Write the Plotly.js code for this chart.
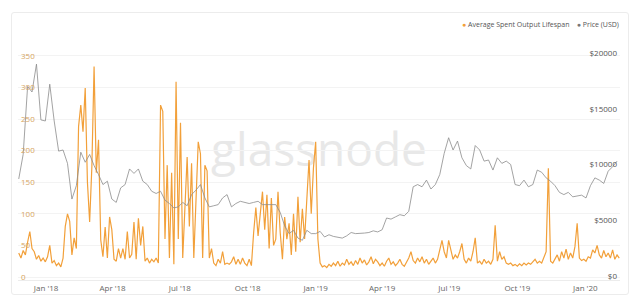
<!DOCTYPE html>
<html>
<head>
<meta charset="utf-8">
<script src="https://cdn.plot.ly/plotly-3.0.1.min.js"></script>
<style>
  html, body { margin: 0; padding: 0; background: #ffffff; }
  #card { position: absolute; left: 11px; top: 12px; width: 616px; height: 281px;
          border: 1px solid #ececec; border-radius: 3px; background: #fff; z-index: 0; }
  #chart { position: absolute; left: 0; top: 0; width: 640px; height: 300px; z-index: 1; }
</style>
</head>
<body>
<div id="card"></div>
<div id="chart"></div>
<script>
// Average Spent Output Lifespan, sampled every 3 days from 2017-11-25
const asolStart = '2017-11-25';
const asolStepDays = 3;
const asolValues = [
  38,30,42,35,55,72,45,40,28,34,25,30,24,32,50,22,26,18,22,16,
  30,80,100,88,35,62,45,238,272,230,299,150,87,175,333,165,217,59,32,79,
  30,95,75,28,25,45,30,45,28,72,30,36,87,28,93,50,80,25,30,22,
  28,24,30,22,272,262,60,177,30,165,20,309,60,244,30,117,190,80,180,30,
  112,214,195,30,177,168,30,45,22,18,28,22,40,20,22,20,24,32,20,28,
  20,30,22,18,28,18,70,110,65,95,135,75,130,45,125,50,60,135,70,28,
  95,60,85,35,100,40,127,55,108,60,120,185,100,173,214,60,22,16,18,15,
  20,17,22,18,25,17,22,19,28,20,24,18,26,20,30,22,27,19,24,32,
  21,28,24,18,22,17,25,30,20,24,18,22,28,20,17,24,30,40,26,22,
  30,24,32,22,28,20,26,30,22,28,43,58,40,30,58,40,28,35,30,40,
  53,28,22,30,25,40,62,22,25,20,28,22,25,20,28,82,25,40,28,32,
  22,20,22,18,20,17,21,18,22,19,22,20,24,28,22,25,22,30,40,172,
  25,22,28,35,25,40,30,44,28,38,30,48,85,30,26,28,25,32,30,43,
  38,50,35,30,42,32,38,30,43,28,35,30
];

// Price (USD), sampled every 6 days from 2017-11-25
const priceStart = '2017-11-25';
const priceStepDays = 6;
const priceValues = [
  8700,10900,17000,16500,19000,14000,13900,17200,13900,11200,
  11300,10100,6900,8100,11100,10200,10900,9900,9100,8200,
  8500,6900,6600,7900,8200,9600,9200,9600,8500,8200,
  7600,7400,7600,6800,6500,6100,6200,6600,6300,7300,
  7700,8200,7000,6200,6300,6400,7000,7300,6200,6500,
  6700,6600,6500,6600,6700,6400,6400,6350,6400,5700,
  4500,3800,4100,3400,3200,4100,3800,3800,4000,3500,
  3700,3550,3450,3400,3600,3900,3800,3800,3850,3900,
  4050,3950,4150,5200,5100,5300,5500,5400,5800,8000,
  8200,8000,8600,7800,8200,9100,11000,12400,11300,12100,
  10600,9900,9600,11700,11300,10300,10400,9500,10600,10100,
  10300,10000,8200,8100,8600,8000,8200,9500,9300,8800,
  8500,8100,7500,7300,7500,7100,7150,7250,7000,8100,
  8800,8600,8300,9400,9800,10300
];

const leftTicks = [0,50,100,150,200,250,300,350];
const rightTicks = [0,5000,10000,15000,20000];
const rightTickText = ['$0','$5000','$10000','$15000','$20000'];

function buildDates(start, step, n) {
  const out = [];
  const t0 = new Date(start + 'T00:00:00Z').getTime();
  for (let i = 0; i < n; i++) {
    const d = new Date(t0 + i * step * 86400000);
    out.push(d.toISOString().slice(0, 10));
  }
  return out;
}

const asolDates = buildDates(asolStart, asolStepDays, asolValues.length);
const priceDates = buildDates(priceStart, priceStepDays, priceValues.length);

const ORANGE = '#f2a03a';
const GREY = '#8c8c8c';
const FONT = 'Open Sans, Noto Sans, sans-serif';

const traces = [
  {
    x: priceDates, y: priceValues, yaxis: 'y2', type: 'scatter', mode: 'lines',
    line: { color: GREY, width: 0.8 }, showlegend: false, hoverinfo: 'skip'
  },
  {
    x: asolDates, y: asolValues, yaxis: 'y', type: 'scatter', mode: 'lines',
    line: { color: ORANGE, width: 1.2 }, showlegend: false, hoverinfo: 'skip'
  }
];

const layout = {
  width: 640, height: 300,
  margin: { l: 18, r: 20, t: 28, b: 20 },
  paper_bgcolor: 'rgba(0,0,0,0)',
  plot_bgcolor: 'rgba(0,0,0,0)',
  font: { family: FONT, size: 8, color: '#666' },
  showlegend: false,
  xaxis: {
    type: 'date',
    range: ['2017-11-24', '2020-02-17'],
    tick0: '2018-01-01', dtick: 'M3',
    tickformat: "%b '%y",
    showgrid: false, zeroline: false,
    showline: true, linecolor: '#ececec', linewidth: 1,
    ticks: '', tickfont: { size: 8, color: '#666', family: FONT }
  },
  yaxis: {
    range: [-4.75, 394],
    tickvals: leftTicks,
    ticklabelposition: 'inside',
    ticklabeloverflow: 'allow',
    showgrid: true, gridcolor: '#f3f3f3', gridwidth: 1,
    zeroline: false, showline: false, ticks: '',
    tickfont: { size: 8, color: '#d6a45e', family: FONT }
  },
  yaxis2: {
    overlaying: 'y', side: 'right',
    range: [-359, 22240],
    tickvals: rightTicks,
    ticktext: rightTickText,
    ticklabelposition: 'inside',
    ticklabeloverflow: 'allow',
    showgrid: false, zeroline: false, showline: false, ticks: '',
    tickfont: { size: 8, color: '#555', family: FONT }
  },
  shapes: [
    {
      type: 'rect', xref: 'paper', yref: 'paper',
      x0: 0.30, x1: 0.70, y0: 0.38, y1: 0.64,
      line: { width: 0 }, fillcolor: 'rgba(0,0,0,0)', layer: 'below',
      label: {
        text: 'glassnode', textposition: 'middle center',
        font: { family: FONT, size: 46, color: '#e8e8e8' }
      }
    }
  ],
  annotations: [
    {
      xref: 'paper', yref: 'paper', x: 1.0, y: 1.0, yshift: 4, xshift: 1,
      xanchor: 'right', yanchor: 'middle', showarrow: false,
      text: '<span style="color:' + ORANGE + '">●</span> Average Spent Output Lifespan' +
            '    <span style="color:#777">●</span> Price (USD)',
      font: { family: FONT, size: 7, color: '#555' }
    }
  ]
};

Plotly.newPlot('chart', traces, layout, { displayModeBar: false, staticPlot: true });
</script>
</body>
</html>
